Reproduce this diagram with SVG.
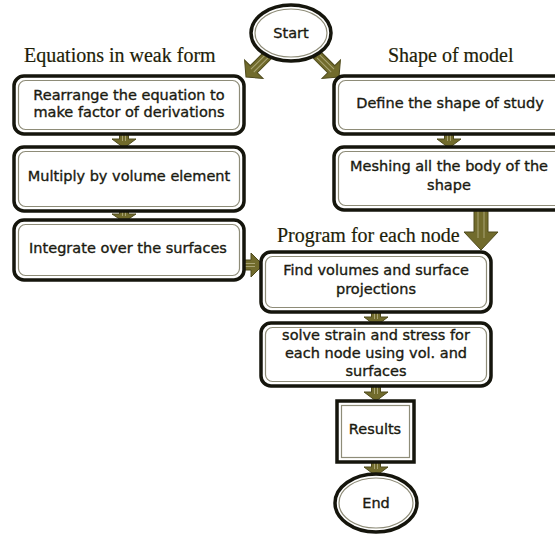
<svg xmlns="http://www.w3.org/2000/svg" width="555" height="535" viewBox="0 0 555 535">
<style>
.out{fill:#fff;stroke:#15150c;stroke-width:3.5}
.in{fill:none;stroke:#8e8c78;stroke-width:1.2}
.t{font-family:"DejaVu Sans",sans-serif;font-size:14.5px;fill:#1a1a10;stroke:#1a1a10;stroke-width:0.35;text-anchor:middle}
.h{font-family:"Liberation Serif",serif;font-size:20px;fill:#1e1e08;stroke:#1e1e08;stroke-width:0.2}
.ar{fill:#716b2c;stroke:#4e4a1c;stroke-width:1}
.al{fill:none;stroke:#a9a474;stroke-width:1}
</style>
<rect width="555" height="535" fill="#fff"/>
<g id="connectors">
<g transform="translate(246,77) rotate(45)">
<polygon class="ar" points="0,0 -13,-11 -5,-11 -5,-31 5,-31 5,-11 13,-11"/>
<path class="al" d="M-2,-29 V-9 M2,-29 V-9"/>
</g>
<g transform="translate(339,77) rotate(-45)">
<polygon class="ar" points="0,0 -13,-11 -5,-11 -5,-31 5,-31 5,-11 13,-11"/>
<path class="al" d="M-2,-29 V-9 M2,-29 V-9"/>
</g>
<polygon class="ar" points="124,148 112,139 119.5,139 119.5,132 128.5,132 128.5,139 136,139"/>
<path class="al" d="M122.5,133 V141 M125.5,133 V141"/>
<polygon class="ar" points="449,148 437,139 444.5,139 444.5,132 453.5,132 453.5,139 461,139"/>
<path class="al" d="M447.5,133 V141 M450.5,133 V141"/>
<polygon class="ar" points="124,222 112,214 119.5,214 119.5,209 128.5,209 128.5,214 136,214"/>
<path class="al" d="M122.5,210 V216 M125.5,210 V216"/>
<polygon class="ar" points="481,250 464,232 474,232 474,208 488,208 488,232 498,232"/>
<path class="al" d="M478,210 V238 M484,210 V238"/>
<polygon class="ar" points="263,265 251,253 251,260 242,260 242,270 251,270 251,277"/>
<path class="al" d="M243,263.5 H255 M243,266.5 H255"/>
<polygon class="ar" points="376,326 364,317 371.5,317 371.5,310 380.5,310 380.5,317 388,317"/>
<path class="al" d="M374.5,311 V319 M377.5,311 V319"/>
<polygon class="ar" points="376,401 364,392 371.5,392 371.5,385 380.5,385 380.5,392 388,392"/>
<path class="al" d="M374.5,386 V394 M377.5,386 V394"/>
<polygon class="ar" points="376,476 364,467 371.5,467 371.5,461 380.5,461 380.5,467 388,467"/>
<path class="al" d="M374.5,462 V469 M377.5,462 V469"/>
</g>
<g id="labels">
<text class="h" x="24" y="62">Equations in weak form</text>
<text class="h" x="388" y="62">Shape of model</text>
<text class="h" x="277" y="242">Program for each node</text>
</g>
<g id="start">
<ellipse class="out" cx="291" cy="33" rx="40" ry="28"/>
<ellipse class="in" cx="291" cy="33" rx="36" ry="24"/>
<text class="t" x="291" y="38">Start</text>
</g>
<g id="boxA">
<rect class="out" x="14" y="76" width="230" height="58" rx="10"/>
<rect class="in" x="18.5" y="80.5" width="221" height="49" rx="7"/>
<text class="t" x="129" y="100">Rearrange the equation to</text>
<text class="t" x="129" y="117">make factor of derivations</text>
</g>
<g id="boxB">
<rect class="out" x="334" y="76" width="240" height="58" rx="10"/>
<rect class="in" x="338.5" y="80.5" width="231" height="49" rx="7"/>
<text class="t" x="450" y="108">Define the shape of study</text>
</g>
<g id="boxC">
<rect class="out" x="14" y="147" width="230" height="64" rx="10"/>
<rect class="in" x="18.5" y="151.5" width="221" height="55" rx="7"/>
<text class="t" x="129" y="181">Multiply by volume element</text>
</g>
<g id="boxD">
<rect class="out" x="14" y="220" width="230" height="60" rx="10"/>
<rect class="in" x="18.5" y="224.5" width="221" height="51" rx="7"/>
<text class="t" x="128" y="253">Integrate over the surfaces</text>
</g>
<g id="boxE">
<rect class="out" x="334" y="147" width="240" height="63" rx="10"/>
<rect class="in" x="338.5" y="151.5" width="231" height="54" rx="7"/>
<text class="t" x="449" y="171">Meshing all the body of the</text>
<text class="t" x="449" y="190">shape</text>
</g>
<g id="boxF">
<rect class="out" x="261" y="252" width="230" height="60" rx="10"/>
<rect class="in" x="265.5" y="256.5" width="221" height="51" rx="7"/>
<text class="t" x="376" y="275">Find volumes and surface</text>
<text class="t" x="376" y="294">projections</text>
</g>
<g id="boxG">
<rect class="out" x="261" y="323" width="230" height="63" rx="10"/>
<rect class="in" x="265.5" y="327.5" width="221" height="54" rx="7"/>
<text class="t" x="376" y="340">solve strain and stress for</text>
<text class="t" x="376" y="358">each node using vol. and</text>
<text class="t" x="376" y="376">surfaces</text>
</g>
<g id="results">
<rect class="out" x="337" y="401" width="77" height="61"/>
<rect class="in" x="341.5" y="405.5" width="68" height="52"/>
<text class="t" x="375" y="434">Results</text>
</g>
<g id="end">
<ellipse class="out" cx="376" cy="503" rx="41" ry="29"/>
<ellipse class="in" cx="376" cy="503" rx="37" ry="25"/>
<text class="t" x="376" y="508">End</text>
</g>
</svg>
